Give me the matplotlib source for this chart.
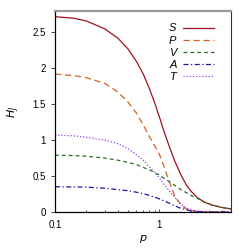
import matplotlib.pyplot as plt

# values
p = [0.1, 0.15, 0.2, 0.3, 0.4, 0.5, 0.6, 0.7, 0.8, 0.9, 1.0, 1.1, 1.25,
     1.4, 1.6, 1.8, 2.0, 2.3, 2.7, 3.2, 4.0, 5.0]
h_s = [2.72, 2.70, 2.66, 2.55, 2.42, 2.27, 2.10, 1.92, 1.72, 1.52, 1.32, 1.13,
       0.90, 0.71, 0.52, 0.38, 0.29, 0.20, 0.135, 0.095, 0.06, 0.04]
h_p = [1.92, 1.90, 1.87, 1.79, 1.67, 1.53, 1.38, 1.21, 1.05, 0.92, 0.80, 0.64,
       0.41, 0.22, 0.10, 0.04, 0.015, 0.005, 0.0, 0.0, 0.0, 0.0]
h_v = [0.79, 0.785, 0.775, 0.75, 0.72, 0.69, 0.66, 0.62, 0.585, 0.55, 0.51,
       0.47, 0.42, 0.37, 0.31, 0.27, 0.23, 0.19, 0.135, 0.095, 0.06, 0.04]
h_a = [0.35, 0.348, 0.345, 0.33, 0.31, 0.295, 0.275, 0.255, 0.23, 0.205, 0.18,
       0.155, 0.12, 0.085, 0.05, 0.03, 0.015, 0.007, 0.003, 0.0, 0.0, 0.0]
h_t = [1.07, 1.06, 1.04, 1.00, 0.95, 0.88, 0.80, 0.72, 0.63, 0.55, 0.47, 0.39,
       0.29, 0.20, 0.11, 0.06, 0.03, 0.01, 0.0, 0.0, 0.0, 0.0]
names = ["S", "P", "V", "A", "T"]

plt.rcParams['font.family'] = ['Liberation Sans', 'DejaVu Sans']
plt.rcParams['font.size'] = 7

fig = plt.figure(figsize=(2.49, 2.49), dpi=100)
ax = fig.add_axes([0.221, 0.149, 0.707, 0.807])

ax.plot(p, h_s, color='#a01020', lw=0.9, label=names[0])
ax.plot(p, h_p, color='#d86020', lw=0.9, dashes=(5, 3), label=names[1])
ax.plot(p, h_v, color='#207020', lw=0.9, dashes=(3, 2.5), label=names[2])
ax.plot(p, h_a, color='#1818a0', lw=0.9, dashes=(4, 2, 1, 2), label=names[3])
ax.plot(p, h_t, color='#a040e0', lw=0.9, dashes=(1, 1.5), label=names[4])

ax.set_xscale('log')
ax.set_xlim(0.1, 4.85)
ax.set_ylim(0, 2.8)
ax.set_xticks([0.1, 1])
ax.set_xticklabels(['0.1', '1'])
ax.set_yticks([0, 0.5, 1, 1.5, 2, 2.5])
ax.set_yticklabels(['0', '0.5', '1', '1.5', '2', '2.5'])
ax.tick_params(axis='x', which='both', direction='in', length=2.5, width=0.5, pad=6)
ax.tick_params(axis='x', which='minor', length=1.8)
ax.tick_params(axis='y', direction='out', length=3, width=0.5)

ax.spines['left'].set_linewidth(0.9)
ax.spines['bottom'].set_linewidth(0.9)
ax.spines['top'].set_color('#999999')
ax.spines['top'].set_linewidth(1.6)
ax.spines['right'].set_color('#333333')
ax.spines['right'].set_linewidth(0.8)

ax.set_xlabel('$p$', fontsize=8, labelpad=2)
ax.set_ylabel('$H_J$', fontsize=8, labelpad=8)

leg = ax.legend(loc='upper right', bbox_to_anchor=(0.93, 0.96), frameon=False,
                markerfirst=False, handlelength=2.8, handletextpad=0.6,
                labelspacing=0.2, borderaxespad=0, fontsize=8)
for t in leg.get_texts():
    t.set_fontstyle('italic')
    t.set_horizontalalignment('right')

fig.savefig('out.png', dpi=100)
